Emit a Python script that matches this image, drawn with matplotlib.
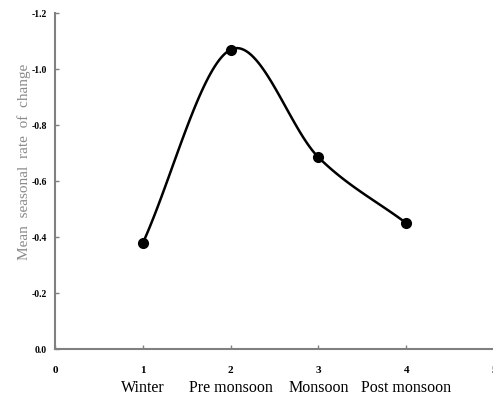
import numpy as np
import matplotlib
matplotlib.use("Agg")
import matplotlib.pyplot as plt

# Values (y axis shown inverted: 0 at bottom, -1.2 at top)
season_pos = [1, 2, 3, 4]
season_names = ["Winter", "Pre monsoon", "Monsoon", "Post monsoon"]
rate_of_change = [-0.38, -1.07, -0.685, -0.45]
y_ticks = [0.0, -0.2, -0.4, -0.6, -0.8, -1.0, -1.2]
x_ticks = [0, 1, 2, 3, 4, 5]


def smooth_line(x, y, n=40):
    # Catmull-Rom style smoothing, similar to a spreadsheet "smoothed line"
    x = np.asarray(x, float)
    y = np.asarray(y, float)
    px = np.concatenate([[2 * x[0] - x[1]], x, [2 * x[-1] - x[-2]]])
    py = np.concatenate([[2 * y[0] - y[1]], y, [2 * y[-1] - y[-2]]])
    xs, ys = [], []
    t = np.linspace(0, 1, n)
    for i in range(1, len(px) - 2):
        for p, out in ((px, xs), (py, ys)):
            p0, p1, p2, p3 = p[i - 1], p[i], p[i + 1], p[i + 2]
            out.extend(0.5 * ((2 * p1) + (-p0 + p2) * t
                              + (2 * p0 - 5 * p1 + 4 * p2 - p3) * t ** 2
                              + (-p0 + 3 * p1 - 3 * p2 + p3) * t ** 3))
    return np.array(xs), np.array(ys)


plt.rcParams["font.family"] = ["Liberation Serif", "DejaVu Serif"]

fig = plt.figure(figsize=(4.93, 3.99), dpi=100)
ax = fig.add_axes([0.112, 0.125, 0.89, 0.842])

sx, sy = smooth_line(season_pos, rate_of_change)
ax.plot(sx, sy, color="black", linewidth=1.8, zorder=2)
ax.plot(season_pos, rate_of_change, "o", color="black", markersize=7, zorder=3)

ax.set_xlim(0, 5)
ax.set_ylim(0, -1.2)
ax.set_xticks(x_ticks)
ax.set_yticks(y_ticks)
ax.set_yticklabels([f"{v:.1f}" for v in y_ticks], fontsize=7, fontweight="bold")
ax.set_xticklabels([str(v) for v in x_ticks], fontsize=8, fontweight="bold")
ax.tick_params(direction="in", length=3, width=1, color="#808080")
ax.tick_params(axis="x", pad=12)
ax.tick_params(axis="y", pad=6)

for side in ("top", "right"):
    ax.spines[side].set_visible(False)
for side in ("left", "bottom"):
    ax.spines[side].set_color("#808080")
    ax.spines[side].set_linewidth(1.5)

for pos, name in zip(season_pos, season_names):
    ax.text(pos, -0.116, name, transform=ax.get_xaxis_transform(),
            ha="center", va="center", fontsize=11.5, clip_on=False)

ax.set_ylabel("Mean  seasonal  rate  of  change", fontsize=11, color="#8a8a8a")
ax.yaxis.set_label_coords(-0.055, 0.556)

fig.savefig("out.png", dpi=100)
